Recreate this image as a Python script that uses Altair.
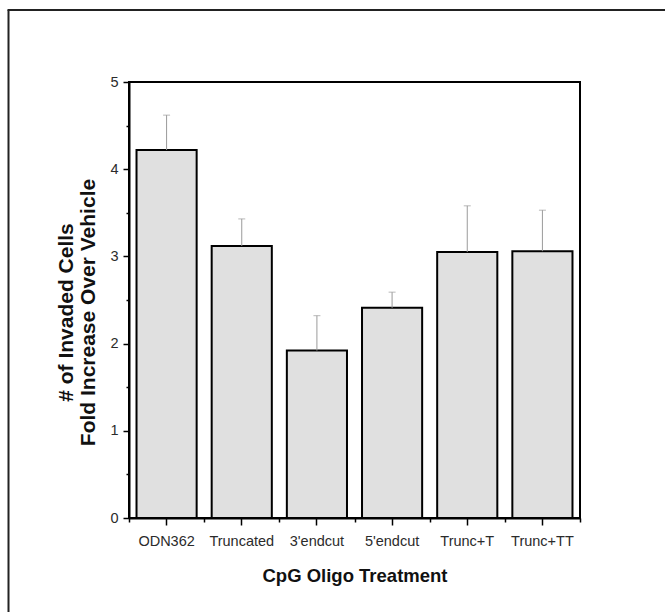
import altair as alt
import pandas as pd

categories = ["ODN362", "Truncated", "3'endcut", "5'endcut", "Trunc+T", "Trunc+TT"]
means = [4.22, 3.12, 1.92, 2.41, 3.05, 3.06]
errors = [0.40, 0.31, 0.40, 0.18, 0.53, 0.47]
y_ticks = [0, 1, 2, 3, 4, 5]
y_minor = [0.5, 1.5, 2.5, 3.5, 4.5]

df = pd.DataFrame({"cat": categories, "mean": means, "err": errors})
df["upper"] = df["mean"] + df["err"]

FONT = "Liberation Sans"
xscale = alt.Scale(domain=categories, paddingInner=0, paddingOuter=0)
yscale = alt.Scale(domain=[0, 5], nice=False)

base = alt.Chart(df)

bars = base.mark_bar(
    width=alt.RelativeBandSize(0.8), fill="#e0e0e0", stroke="black", strokeWidth=2
).encode(
    x=alt.X("cat:N", scale=xscale, sort=categories,
            axis=alt.Axis(orient="bottom", title="CpG Oligo Treatment", labelAngle=0,
                          tickSize=7, tickWidth=1.5, tickColor="black",
                          domainColor="black", domainWidth=2,
                          labelFont=FONT, labelFontSize=14.5, labelColor="#2b2b2b",
                          labelPadding=9,
                          titleFont=FONT, titleFontSize=18.5, titleFontWeight="bold",
                          titleColor="#111", titleBaseline="alphabetic", titleY=63)),
    y=alt.Y("mean:Q", scale=yscale,
            axis=alt.Axis(orient="left", values=y_ticks, format="d",
                          title=["# of Invaded Cells", "Fold Increase Over Vehicle"],
                          tickSize=6, tickWidth=1.5, tickColor="black",
                          domainColor="black", domainWidth=2, grid=False,
                          labelFont=FONT, labelFontSize=14.5, labelColor="#2b2b2b",
                          labelPadding=5,
                          titleFont=FONT, titleFontSize=21, titleFontWeight="bold",
                          titleColor="#111", titleAngle=270, titleAlign="center",
                          titleBaseline="middle", titleX=-63, titleY=230,
                          titleLineHeight=22.5)),
)

err_rule = base.mark_rule(color="#9a9a9a", strokeWidth=1).encode(
    x=alt.X("cat:N", scale=xscale, sort=categories,
            axis=alt.Axis(orient="bottom", tickBand="extent", labels=False, title=None,
                          tickSize=4, tickWidth=1.5, tickColor="black", domain=False)),
    y=alt.Y("mean:Q", scale=yscale,
            axis=alt.Axis(orient="left", values=y_minor, labels=False, title=None,
                          tickSize=3, tickWidth=1.5, tickColor="black", domain=False,
                          grid=False)),
    y2="upper:Q",
)

err_cap = base.mark_tick(color="#9a9a9a", thickness=1, size=7).encode(
    x=alt.X("cat:N", scale=xscale, sort=categories, axis=None),
    y=alt.Y("upper:Q", scale=yscale, axis=None),
)

border_data = alt.Data(values=[{"k": 1}])
border_left = alt.Chart(border_data).mark_rule(color="#222", strokeWidth=2).encode(
    x=alt.value(-120.5), y=alt.value(-72), y2=alt.value(540)
)
border_top = alt.Chart(border_data).mark_rule(color="#222", strokeWidth=2).encode(
    x=alt.value(-121.5), x2=alt.value(545), y=alt.value(-72)
)

chart = alt.layer(bars, err_rule, err_cap, border_left, border_top).resolve_axis(
    x="independent", y="independent"
).properties(
    width=451, height=436,
    autosize=alt.AutoSizeParams(type="none"),
    padding={"left": 129, "top": 82, "right": 85, "bottom": 94},
    background="white",
).configure_view(stroke="black", strokeWidth=2)

chart.save("out.html", embed_options={"renderer": "svg", "actions": False})
